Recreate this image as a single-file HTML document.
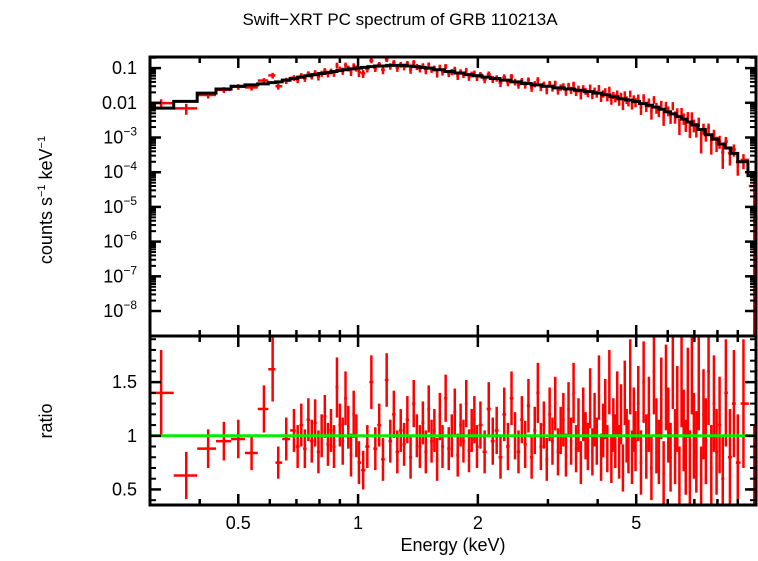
<!DOCTYPE html>
<html><head><meta charset="utf-8"><style>
body{margin:0;background:#fff}
svg{font-family:"Liberation Sans",sans-serif}
</style></head><body>
<svg id="c" width="758" height="556">
<text x="400" y="25" font-size="17" text-anchor="middle">Swift−XRT PC spectrum of GRB 110213A</text>
<text x="52" y="200" font-size="18" text-anchor="middle" transform="rotate(-90 52 200)">counts s<tspan font-size="11" dy="-7">−1</tspan><tspan dy="7"> keV</tspan><tspan font-size="11" dy="-7">−1</tspan></text>
<text x="52" y="421" font-size="18" text-anchor="middle" transform="rotate(-90 52 421)">ratio</text>
<text x="453" y="551" font-size="18" text-anchor="middle">Energy (keV)</text>
<g id="g"></g>
</svg>
<script>
const modelE=[0.32,0.37,0.42,0.46,0.50,0.54,0.58,0.61,0.63,0.66,0.69,0.72,0.75,0.78,0.81,0.84,0.87,0.90,0.93,0.96,1.0,1.04,1.08,1.12,1.16,1.2,1.25,1.3,1.35,1.4,1.45,1.5,1.6,1.7,1.8,1.9,2.0,2.1,2.2,2.35,2.5,2.65,2.8,3.0,3.2,3.4,3.6,3.8,4.0,4.2,4.4,4.6,4.8,5.0,5.2,5.4,5.6,5.8,6.0,6.2,6.4,6.6,6.8,7.0,7.3,7.6,7.9,8.2,8.5,8.8,9.2,9.9];
const modelV=[0.007,0.011,0.019,0.025,0.03,0.033,0.035,0.038,0.04,0.045,0.05,0.055,0.06,0.065,0.07,0.075,0.08,0.085,0.09,0.095,0.1,0.105,0.11,0.115,0.115,0.12,0.12,0.12,0.115,0.11,0.105,0.1,0.09,0.08,0.072,0.065,0.06,0.055,0.05,0.045,0.04,0.036,0.033,0.03,0.027,0.025,0.023,0.021,0.019,0.017,0.015,0.013,0.012,0.011,0.0095,0.0085,0.0075,0.0065,0.0055,0.0048,0.004,0.0034,0.0028,0.0023,0.0017,0.0012,0.0009,0.00065,0.0005,0.00035,0.0002,0.00008];
const energies=[0.32,0.37,0.42,0.46,0.50,0.54,0.58,0.61,0.63,0.66,
0.69,0.705,0.72,0.735,0.75,0.765,0.78,0.795,0.81,0.825,0.84,0.855,0.87,0.885,0.90,0.915,0.93,0.945,0.96,0.975,0.99,
1.005,1.03,1.055,1.08,1.105,1.13,1.155,1.18,1.205,1.23,1.255,1.28,1.305,1.33,1.355,1.38,1.405,1.43,1.455,1.48,1.505,1.53,1.555,1.58,1.605,1.63,1.66,1.69,1.72,1.75,1.78,1.81,1.84,1.87,1.9,1.93,1.96,1.99,
2.03,2.08,2.13,2.18,2.23,2.28,2.33,2.38,2.43,2.48,2.53,2.58,2.63,2.68,2.73,2.78,2.83,2.88,2.93,2.98,3.03,3.08,3.13,3.18,3.23,3.28,3.33,3.38,3.43,3.48,3.53,3.58,3.63,3.68,3.73,3.78,3.83,3.88,3.93,3.98,4.03,4.08,4.13,4.18,4.23,4.28,4.33,4.38,4.43,4.48,4.53,4.58,4.63,4.68,4.73,4.78,4.83,4.88,4.93,4.98,
5.06,5.14,5.22,5.30,5.38,5.46,5.54,5.62,5.70,5.78,5.86,5.94,6.02,6.10,6.18,6.26,6.34,6.42,6.50,6.58,6.66,6.74,6.82,6.90,6.98,7.08,7.18,7.28,7.38,7.48,7.6,7.72,7.84,7.96,8.1,8.25,8.4,8.6,8.8,9.0,9.3,9.9];
const ratio=[1.4,0.63,0.88,0.95,0.97,0.84,1.25,1.62,0.75,0.97,
1.05,0.9,1.1,0.88,1.15,0.95,1.12,0.85,1.0,1.18,0.92,1.05,0.9,1.45,1.1,0.95,1.35,1.08,0.82,1.2,1.0,
0.75,0.68,0.9,1.5,0.88,1.1,0.78,1.52,0.95,1.2,0.85,1.05,0.92,1.15,0.8,1.3,1.0,0.9,1.12,0.85,1.25,0.95,1.05,0.78,1.18,0.9,1.35,0.88,1.0,1.22,0.82,1.1,0.95,1.3,0.86,1.05,1.15,0.9,
1.1,0.85,1.25,0.95,1.05,0.8,1.2,0.9,1.35,1.0,0.85,1.15,0.92,1.28,0.8,1.05,1.4,0.9,1.1,0.78,1.2,0.95,1.3,0.85,1.05,1.15,0.82,1.25,0.95,1.4,0.88,1.1,0.75,1.2,1.0,0.9,1.35,0.85,1.15,0.95,1.45,0.8,1.05,1.25,0.88,1.5,0.78,1.1,0.95,1.3,0.85,1.2,0.7,1.4,1.0,0.9,1.55,0.8,1.15,0.95,
1.3,0.75,1.5,0.9,1.2,0.7,1.6,1.0,0.85,1.35,0.65,1.45,1.1,0.8,1.7,0.9,1.25,0.6,1.5,1.05,0.8,1.4,0.7,1.65,1.0,0.85,1.5,0.55,1.2,0.95,1.6,0.7,1.3,0.85,1.1,0.6,1.4,0.8,1.3,0.75,1.3,0.5];
const ratioErr=[0.4,0.22,0.18,0.18,0.18,0.16,0.22,0.3,0.15,0.2,
0.2,0.2,0.2,0.18,0.2,0.2,0.22,0.2,0.2,0.2,0.2,0.2,0.2,0.28,0.2,0.22,0.25,0.2,0.2,0.22,0.2,
0.2,0.18,0.2,0.25,0.2,0.2,0.2,0.25,0.2,0.22,0.2,0.2,0.2,0.22,0.2,0.22,0.2,0.2,0.2,0.2,0.22,0.2,0.2,0.2,0.22,0.2,0.22,0.2,0.2,0.22,0.2,0.2,0.2,0.22,0.2,0.2,0.22,0.2,
0.22,0.2,0.25,0.22,0.22,0.2,0.25,0.22,0.25,0.22,0.2,0.22,0.22,0.25,0.2,0.22,0.28,0.22,0.22,0.2,0.25,0.22,0.25,0.22,0.22,0.25,0.2,0.25,0.22,0.28,0.22,0.25,0.2,0.25,0.22,0.22,0.28,0.22,0.25,0.22,0.3,0.22,0.25,0.28,0.22,0.3,0.22,0.25,0.25,0.3,0.25,0.28,0.22,0.3,0.25,0.25,0.35,0.25,0.3,0.28,
0.35,0.3,0.38,0.3,0.35,0.3,0.4,0.35,0.3,0.38,0.3,0.4,0.35,0.32,0.45,0.35,0.4,0.3,0.42,0.38,0.35,0.42,0.35,0.45,0.4,0.38,0.45,0.35,0.42,0.4,0.5,0.4,0.45,0.4,0.45,0.4,0.5,0.45,0.5,0.45,0.6,0.6];
const yTicksTop=["0.1","0.01","10−3","10−4","10−5","10−6","10−7","10−8"];
const xTickVals=[0.5,1,2,5];
const ratioTicks=[0.5,1,1.5];

const L=150,R=756,T1=57,B1=336,B2=505;
const xs=e=>L+(Math.log10(e)-Math.log10(0.3))/(1-Math.log10(0.3))*(R-L);
const yTop=v=>T1+(-0.68-Math.log10(v))/(-0.68+8.72)*(B1-T1);
const yBot=r=>B1+(1.93-r)/(1.93-0.355)*(B2-B1);
const g=document.getElementById('g');
const NS='http://www.w3.org/2000/svg';
function mk(t,a,name){const e=document.createElementNS(NS,t);for(const k in a)e.setAttribute(k,a[k]);


g.appendChild(e);return e;}
function line(x1,y1,x2,y2,c,w,n){return mk('line',{x1,y1,x2,y2,stroke:c,'stroke-width':w},n);}
function edgesOf(arr){const ed=[0.3];for(let i=0;i<arr.length-1;i++)ed.push(Math.sqrt(arr[i]*arr[i+1]));ed.push(10);return ed;}
function modelAt(e){
 if(e<=modelE[0])return modelV[0];
 for(let i=0;i<modelE.length-1;i++){if(e<=modelE[i+1]){const t=(Math.log(e)-Math.log(modelE[i]))/(Math.log(modelE[i+1])-Math.log(modelE[i]));return Math.exp(Math.log(modelV[i])*(1-t)+Math.log(modelV[i+1])*t);}}
 return modelV[modelV.length-1];}
const edges=edgesOf(energies);
energies.forEach((e,i)=>{
 const x1=xs(edges[i]),x2=xs(edges[i+1]),xc=xs(e);
 const m=modelAt(e),d=m*ratio[i],de=m*ratioErr[i];
 const lo=Math.max(d-de,1e-10);
 line(x1,yTop(d),x2,yTop(d),'#f00',2.5,'data-point-top');
 line(xc,Math.min(yTop(lo),B1),xc,yTop(d+de),'#f00',2.5,'data-errorbar-top');
 line(x1,yBot(ratio[i]),x2,yBot(ratio[i]),'#f00',2.5,'ratio-point');
 line(xc,Math.min(yBot(ratio[i]-ratioErr[i]),B2),xc,Math.max(yBot(ratio[i]+ratioErr[i]),B1),'#f00',2.5,'ratio-errorbar');
});
const me=edgesOf(modelE);
let p='';
modelE.forEach((e,i)=>{const y=yTop(modelV[i]);p+=(i?'L':'M')+xs(me[i])+' '+y+'L'+xs(me[i+1])+' '+y;});
mk('path',{d:p,fill:'none',stroke:'#000','stroke-width':3},'model-line');
line(L,yBot(1),R,yBot(1),'#0e0',3,'unity-line');
mk('rect',{x:L,y:T1,width:R-L,height:B1-T1,fill:'none',stroke:'#000','stroke-width':3},'top-panel-frame');
mk('rect',{x:L,y:B1,width:R-L,height:B2-B1,fill:'none',stroke:'#000','stroke-width':3},'bottom-panel-frame');
const minor=[0.4,0.6,0.7,0.8,0.9,3,4,6,7,8,9];
minor.forEach(v=>{const x=xs(v);line(x,T1,x,T1+6,'#000',2.5,'x-minor-tick');line(x,B1-6,x,B1+6,'#000',2.5,'x-minor-tick');line(x,B2,x,B2-6,'#000',2.5,'x-minor-tick');});
xTickVals.forEach(v=>{const x=xs(v);line(x,T1,x,T1+11,'#000',2.5,'x-major-tick');line(x,B1-11,x,B1+11,'#000',2.5,'x-major-tick');line(x,B2,x,B2-11,'#000',2.5,'x-major-tick');
 const t=mk('text',{x:x,y:529,'font-size':18,'text-anchor':'middle'},'x-tick-label');t.textContent=v;});
yTicksTop.forEach((s,i)=>{const v=Math.pow(10,-1-i),y=yTop(v);
 line(L,y,L+11,y,'#000',2.5,'y-major-tick');line(R,y,R-11,y,'#000',2.5,'y-major-tick');
 for(let k=2;k<10;k++){const yy=yTop(v*k);if(yy>T1&&yy<B1){line(L,yy,L+6,yy,'#000',2,'y-minor-tick');line(R,yy,R-6,yy,'#000',2,'y-minor-tick');}}
 const t=mk('text',{x:137,y:y+6,'font-size':18,'text-anchor':'end'},'y-tick-label');
 if(i<2)t.textContent=s;else{t.textContent='10';const ts=document.createElementNS(NS,'tspan');ts.setAttribute('font-size','12');ts.setAttribute('dy','-8');ts.textContent=s.slice(2);t.appendChild(ts);}
});
for(let k=2;k<10;k++){const yy=yTop(0.1*k);if(yy>T1){line(L,yy,L+6,yy,'#000',2,'y-minor-tick');line(R,yy,R-6,yy,'#000',2,'y-minor-tick');}}
ratioTicks.forEach(v=>{const y=yBot(v);line(L,y,L+11,y,'#000',2.5,'ratio-major-tick');line(R,y,R-11,y,'#000',2.5,'ratio-major-tick');
 const t=mk('text',{x:137,y:y+6,'font-size':18,'text-anchor':'end'},'ratio-tick-label');t.textContent=v;});
[0.4,0.6,0.7,0.8,0.9,1.1,1.2,1.3,1.4,1.6,1.7,1.8,1.9].forEach(v=>{const y=yBot(v);if(y>B1&&y<B2){line(L,y,L+6,y,'#000',2,'ratio-minor-tick');line(R,y,R-6,y,'#000',2,'ratio-minor-tick');}});
</script>
</body></html>
